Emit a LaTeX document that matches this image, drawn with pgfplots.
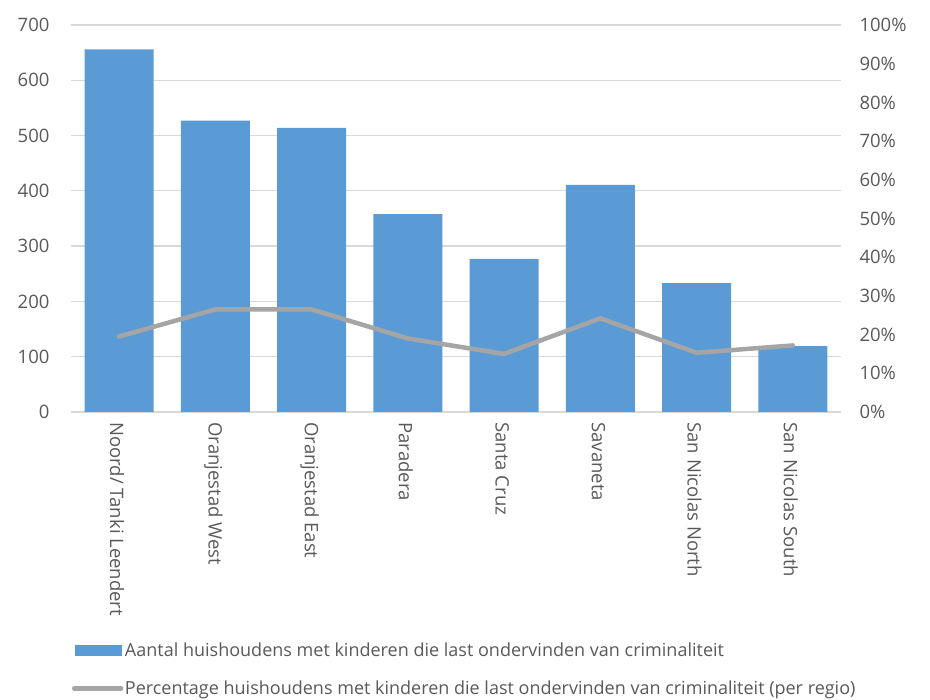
\documentclass[border=0pt]{standalone}
\usepackage{pgfplots}
\pgfplotsset{compat=1.18}
\usepackage{fontspec}
\setmainfont{Open Sans}
\definecolor{barblue}{HTML}{5B9BD5}
\definecolor{linegray}{HTML}{A5A5A5}
\definecolor{gridgray}{HTML}{D9D9D9}
\definecolor{textgray}{HTML}{595959}
\newcommand{\lbl}{\fontsize{18.5}{21}\selectfont\color{textgray}}
\newcommand{\leglbl}{\fontsize{18}{21}\selectfont\color{textgray}}
\begin{document}
\begin{tikzpicture}[x=1pt,y=1pt]
\path[use as bounding box] (0,0) rectangle (930,700);
\begin{axis}[
  at={(71pt,288pt)}, anchor=south west,
  scale only axis, width=770pt, height=387pt,
  xmin=-0.5, xmax=7.5, ymin=0, ymax=700,
  axis line style={draw=none},
  major tick length=0pt,
  ytick={0,100,...,700},
  ymajorgrids, grid style={gridgray, line width=1.3pt},
  xtick={0,...,7},
  xticklabels={Noord/ Tanki Leendert, Oranjestad West, Oranjestad East, Paradera, Santa Cruz, Savaneta, San Nicolas North, San Nicolas South},
  xticklabel style={rotate=-90, anchor=west, font=\lbl, xshift=7pt, yshift=-2pt},
  yticklabel style={font=\lbl, xshift=-18pt},
  /pgf/number format/assume math mode=true,
  /pgf/number format/1000 sep={},
]
\addplot[ybar, bar width=69pt, fill=barblue, draw=none] coordinates {
 (0,656) (1,527) (2,514) (3,358) (4,277) (5,411) (6,233) (7,119)};
\end{axis}
\begin{axis}[
  at={(71pt,288pt)}, anchor=south west,
  scale only axis, width=770pt, height=387pt,
  xmin=-0.5, xmax=7.5, ymin=0, ymax=100,
  axis y line*=right, axis x line=none,
  axis line style={draw=none},
  major tick length=0pt,
  ytick={0,10,...,100},
  yticklabel={\pgfmathprintnumber{\tick}\%},
  yticklabel style={font=\lbl, xshift=15pt},
  /pgf/number format/assume math mode=true,
  legend style={at={(0.001,-0.592)}, anchor=north west, draw=none, fill=none,
    inner sep=0pt, row sep=20pt, font=\leglbl,
    nodes={inner sep=1.5pt}},
  legend cell align=left,
]
\addlegendimage{legend image code/.code={\fill[barblue] (0pt,-5pt) rectangle (46pt,5pt);}}
\addlegendentry{Aantal huishoudens met kinderen die last ondervinden van criminaliteit}
\addplot[linegray, line width=4.5pt, line join=round, line cap=round,
  legend image code/.code={\draw[linegray, line width=4.5pt, line cap=round] (-1pt,0pt) -- (46pt,0pt);}] coordinates {
 (0,19.5) (1,26.5) (2,26.5) (3,19.0) (4,15.0) (5,24.2) (6,15.3) (7,17.2)};
\addlegendentry{Percentage huishoudens met kinderen die last ondervinden van criminaliteit (per regio)}
\end{axis}
\end{tikzpicture}
\end{document}
